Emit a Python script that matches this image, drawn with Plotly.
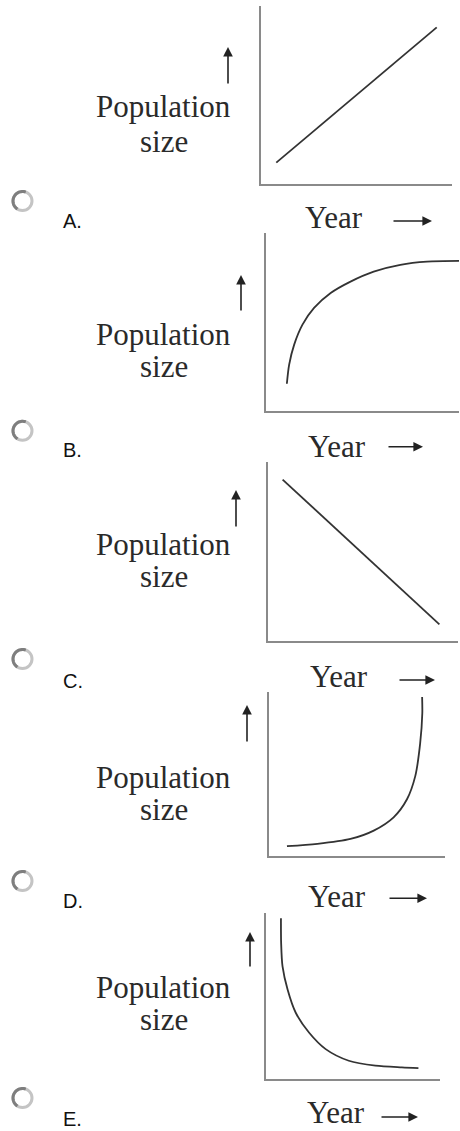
import math
import plotly.graph_objects as go

# ---------------- data ----------------
option_labels = ["A.", "B.", "C.", "D.", "E."]
y_title_lines = ["Population", "size"]
x_title = "Year"

year_a = [0.8, 9.2]
pop_a = [1.2, 8.8]

year_b = [1.08, 1.20, 1.46, 1.89, 2.49, 3.35, 4.38, 5.58, 6.96, 8.34, 10.0]
pop_b = [1.53, 2.61, 3.73, 4.85, 5.79, 6.63, 7.27, 7.83, 8.21, 8.39, 8.43]

year_c = [0.77, 9.02]
pop_c = [9.02, 0.93]

year_d = [1.02, 2.75, 4.63, 5.95, 7.08, 7.84, 8.31, 8.59, 8.71, 8.70]
pop_d = [0.60, 0.74, 1.04, 1.55, 2.36, 3.46, 4.87, 6.88, 8.70, 9.70]

year_e = [0.86, 0.87, 0.95, 1.24, 1.71, 2.47, 3.43, 4.76, 6.29, 7.81, 8.76]
pop_e = [9.68, 8.19, 6.78, 5.39, 3.99, 2.80, 1.80, 1.10, 0.80, 0.70, 0.66]

series = [(year_a, pop_a, "linear"), (year_b, pop_b, "spline"), (year_c, pop_c, "linear"),
          (year_d, pop_d, "spline"), (year_e, pop_e, "spline")]

# ---------------- layout (pixel geometry) ----------------
W, H = 460, 1131


def fx(px):
    return px / W


def fy(py):
    return 1 - py / H


# plot boxes: left, right, top, bottom (px)
boxes = [(261, 452, 6, 184), (266, 459, 233, 411), (268, 458, 462, 641),
         (269, 445, 692, 856), (266, 440, 913, 1079)]
# "Population" baseline, "size" baseline
ytitle_base = [(116.7, 151.7), (345, 376.7), (555, 586.7), (788.3, 820), (998.3, 1030)]
ytitle_cx = [163.5, 163.5, 163.5, 163.5, 163.5]
# up arrow: x, head y, tail y
up_arrows = [(228, 47, 85), (241, 275, 312), (236, 490, 528), (247, 705, 743), (250, 932, 968)]
# Year text center x, baseline
year_pos = [(333.5, 228.3), (336.5, 456.7), (339, 686.7), (336.5, 906.7), (336, 1123.5)]
# Year arrow: tail x, head x, y
right_arrows = [(392, 432, 221), (387, 423, 446.7), (398, 435, 680), (388, 427, 898.3), (380, 418, 1117)]
# option letter left x, baseline
letter_pos = [(61.5, 228.3), (61.5, 456.7), (61.5, 688.3), (61.5, 908.3), (61.5, 1126)]
# radio centres
radio_pos = [(22.5, 201), (22.5, 430.8), (22.5, 659), (22.5, 881), (22.5, 1098)]

SERIF = "Liberation Serif, Times New Roman, serif"
SANS = "Liberation Sans, Arial, sans-serif"
TXT = "#2a2a2a"
FS = 31
YFS = 31
LFS = 20

fig = go.Figure()
layout = dict(width=W, height=H, margin=dict(l=0, r=0, t=0, b=0),
              paper_bgcolor="white", plot_bgcolor="white", showlegend=False)

annotations = []
shapes = []

for i, ((xs, ys, shp), (l, r, t, b)) in enumerate(zip(series, boxes)):
    n = "" if i == 0 else str(i + 1)
    fig.add_trace(go.Scatter(x=xs, y=ys, mode="lines", xaxis="x" + n, yaxis="y" + n,
                             line=dict(color="#333333", width=1.8, shape=shp, smoothing=0.8),
                             hoverinfo="skip"))
    axstyle = dict(range=[0, 10], showgrid=False, zeroline=False, showticklabels=False,
                   ticks="", showline=True, linecolor="#8a8a8a", linewidth=2.2, fixedrange=True)
    layout["xaxis" + n] = dict(domain=[fx(l), fx(r)], anchor="y" + n, **axstyle)
    layout["yaxis" + n] = dict(domain=[fy(b), fy(t)], anchor="x" + n, **axstyle)

    # y title lines
    b1, b2 = ytitle_base[i]
    for txt, base in zip(y_title_lines, (b1, b2)):
        annotations.append(dict(xref="paper", yref="paper", x=fx(ytitle_cx[i]),
                                y=fy(base - 0.34 * FS), borderpad=0,
                                text=txt, showarrow=False, xanchor="center", yanchor="middle",
                                font=dict(family=SERIF, size=FS, color=TXT)))
    # up arrow
    ax_, hy, ty = up_arrows[i]
    annotations.append(dict(xref="paper", yref="paper", x=fx(ax_), y=fy(hy), ax=0, ay=ty - hy,
                            text="", showarrow=True, arrowhead=2, arrowsize=1.2, arrowwidth=1.6,
                            arrowcolor="#222222", standoff=0, startstandoff=0))
    # Year text
    yx, yb = year_pos[i]
    annotations.append(dict(xref="paper", yref="paper", x=fx(yx), y=fy(yb - 0.34 * YFS),
                            text=x_title, showarrow=False, xanchor="center", yanchor="middle",
                            borderpad=0, font=dict(family=SERIF, size=YFS, color=TXT)))
    # right arrow
    tx, hx, ry = right_arrows[i]
    annotations.append(dict(xref="paper", yref="paper", x=fx(hx), y=fy(ry), ax=tx - hx, ay=0,
                            text="", showarrow=True, arrowhead=2, arrowsize=1.2, arrowwidth=1.6,
                            arrowcolor="#222222", standoff=0, startstandoff=0))
    # option letter
    lx, lb = letter_pos[i]
    annotations.append(dict(xref="paper", yref="paper", x=fx(lx), y=fy(lb - 0.35 * LFS),
                            text=option_labels[i], showarrow=False, xanchor="left", yanchor="middle",
                            borderpad=0, font=dict(family=SANS, size=LFS, color="#111111")))
    # radio button
    cx, cy = radio_pos[i]
    rr = 9.5
    shapes.append(dict(type="circle", xref="paper", yref="paper",
                       x0=fx(cx - rr), x1=fx(cx + rr), y0=fy(cy + rr), y1=fy(cy - rr),
                       line=dict(color="#c4c4c4", width=3), fillcolor="white"))
    pts = []
    for k in range(0, 29):
        ang = math.radians(70 + k * 6)
        pts.append((fx(cx + rr * math.cos(ang)), fy(cy - rr * math.sin(ang))))
    path = "M " + " L ".join(f"{px:.5f},{py:.5f}" for px, py in pts)
    shapes.append(dict(type="path", xref="paper", yref="paper", path=path,
                       line=dict(color="#7e7e7e", width=3)))

layout["annotations"] = annotations
layout["shapes"] = shapes
fig.update_layout(**layout)
fig.write_html("out.html", config={"displayModeBar": False, "staticPlot": True},
               post_script="document.body.style.margin='0';document.body.style.padding='0';")
